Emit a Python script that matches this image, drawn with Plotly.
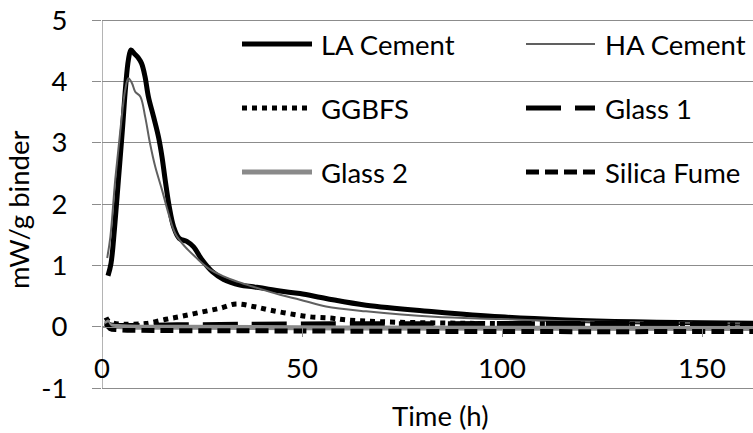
import plotly.graph_objects as go

# Heat flow (mW/g binder) against time (h) for each binder
la_x = [1.5, 2.25, 3.1, 4.1, 5.1, 5.9, 6.6, 7.25, 8.1, 9.1, 9.9, 10.75, 11.6, 12.9, 14.1, 15, 15.8,
        16.8, 17.9, 19.3, 21.2, 22.9, 25, 27.5, 30.4, 34.5, 37.8, 41, 44.5, 49.5, 56, 66, 83, 99.6,
        116, 133, 150, 163]
la_y = [0.83, 1.03, 1.58, 2.39, 3.21, 3.91, 4.35, 4.51, 4.45, 4.38, 4.29, 4.08, 3.75, 3.42, 3.10, 2.77,
        2.39, 1.96, 1.63, 1.44, 1.39, 1.30, 1.09, 0.90, 0.77, 0.68, 0.65, 0.62, 0.58, 0.54, 0.46, 0.35,
        0.245, 0.16, 0.11, 0.08, 0.065, 0.055]

ha_x = [1.3, 2.1, 3.3, 4.6, 5.8, 6.6, 7.5, 8.3, 9.6, 10.8, 12, 13.3, 15, 16.6, 18.3, 20.8, 23.3, 26.6,
        30.4, 34, 37.8, 44.5, 49.5, 56, 66, 83, 99.6, 116, 133, 163]
ha_y = [1.12, 1.47, 2.39, 3.21, 3.86, 4.05, 3.97, 3.83, 3.75, 3.42, 2.99, 2.61, 2.23, 1.85, 1.52, 1.30,
        1.14, 0.95, 0.82, 0.73, 0.65, 0.52, 0.44, 0.33, 0.25, 0.16, 0.125, 0.09, 0.07, 0.05]

ggbfs_x = [1, 1.5, 2.75, 5, 7, 11, 16, 20, 25, 29.5, 33.5, 37.8, 42, 47, 52, 57, 61, 70, 85, 100, 130, 163]
ggbfs_y = [0.15, 0.10, 0.06, 0.04, 0.04, 0.05, 0.12, 0.17, 0.24, 0.30, 0.37, 0.33, 0.27, 0.21, 0.16,
           0.14, 0.11, 0.08, 0.06, 0.05, 0.04, 0.03]

glass1_x = [1, 2, 5, 20, 50, 100, 163]
glass1_y = [0.08, 0.03, 0.02, 0.03, 0.045, 0.05, 0.05]

glass2_x = [1, 2, 5, 20, 60, 163]
glass2_y = [0.10, 0.02, 0.0, -0.01, -0.02, -0.03]

sf_x = [1, 2, 4, 10, 50, 100, 163]
sf_y = [0.05, -0.03, -0.05, -0.06, -0.07, -0.08, -0.08]

series_names = ["LA Cement", "HA Cement", "GGBFS", "Glass 1", "Glass 2", "Silica Fume"]
x_ticks = [0, 50, 100, 150]
y_ticks = [-1, 0, 1, 2, 3, 4, 5]
y_tick_text = ["-1", "0", "1", "2", "3", "4", "5"]

FONT = "Lato"
FS = 27.5
GRID = "#8c8c8c"

styles = [
    dict(color="black", width=5, dash="solid"),
    dict(color="#606060", width=2, dash="solid"),
    dict(color="black", width=5, dash="dot"),
    dict(color="black", width=5, dash="35px,14px"),
    dict(color="#8a8a8a", width=5, dash="solid"),
    dict(color="black", width=5, dash="13px,6px"),
]
data = [(la_x, la_y), (ha_x, ha_y), (ggbfs_x, ggbfs_y),
        (glass1_x, glass1_y), (glass2_x, glass2_y), (sf_x, sf_y)]

fig = go.Figure()
for name, (xs, ys), st in zip(series_names, data, styles):
    fig.add_trace(go.Scatter(x=xs, y=ys, mode="lines", name=name, line_shape="spline",
                             line=st, showlegend=False))

W, H = 753, 433
L, R, T, B = 102, 0, 18, 43
pw, ph = W - L - R, H - T - B
# small headroom above 5 and below -1 so the outer gridlines are kept
y_unit = 368 / 6.0
y_pad = (ph - 368) / 2 / y_unit
y_lo, y_hi = -1 - y_pad, 5 + y_pad


def px(xp):
    return (xp - L) / pw


def py(yp):
    return (H - B - yp) / ph


# Legend drawn as sample lines plus labels, two columns by three rows
legend_cols = [(242, 312, 319), (526, 595, 603)]
legend_rows = [44, 108, 172]
shapes = []
annotations = []
for i, (name, st) in enumerate(zip(series_names, styles)):
    r, c = divmod(i, 2)
    x0, x1, xt = legend_cols[c]
    yc = legend_rows[r]
    shapes.append(dict(type="line", xref="paper", yref="paper", x0=px(x0), x1=px(x1),
                       y0=py(yc), y1=py(yc), line=st))
    annotations.append(dict(text=name, xref="paper", yref="paper", x=px(xt), y=py(yc),
                            xanchor="left", yanchor="middle", showarrow=False,
                            font=dict(family=FONT, size=FS, color="black")))

annotations.append(dict(text="Time (h)", xref="paper", yref="paper", x=px(440), y=py(415),
                        xanchor="center", yanchor="middle", showarrow=False,
                        font=dict(family=FONT, size=FS, color="black")))
annotations.append(dict(text="mW/g binder", xref="paper", yref="paper", x=px(18), y=py(210),
                        xanchor="center", yanchor="middle", showarrow=False, textangle=-90,
                        font=dict(family=FONT, size=FS, color="black")))

fig.update_layout(
    width=W, height=H,
    margin=dict(l=L, r=R, t=T, b=B, pad=0),
    paper_bgcolor="white", plot_bgcolor="white",
    showlegend=False,
    shapes=shapes, annotations=annotations,
    font=dict(family=FONT, size=FS, color="black"),
    xaxis=dict(range=[0, pw / 4.0], tickvals=x_ticks, showgrid=False, zeroline=False,
               showline=True, linecolor=GRID, linewidth=1.3,
               ticks="outside", ticklen=9, tickcolor=GRID, tickwidth=1.3,
               anchor="free", position=(0 - y_lo) / (y_hi - y_lo), ticklabelstandoff=8,
               tickfont=dict(family=FONT, size=FS, color="black")),
    yaxis=dict(range=[y_lo, y_hi], tickvals=y_ticks, ticktext=y_tick_text,
               showgrid=True, gridcolor=GRID, gridwidth=1.3,
               zeroline=False, showline=False,
               ticks="outside", ticklen=9, tickcolor=GRID, tickwidth=1.3,
               ticklabelstandoff=19,
               tickfont=dict(family=FONT, size=FS, color="black")),
)

# vertical axis line from -1 to 5 at time zero
fig.add_shape(type="line", xref="x", yref="y", x0=0, x1=0, y0=-1, y1=5,
              line=dict(color=GRID, width=1.3), layer="below")

fig.write_html("out.html")
